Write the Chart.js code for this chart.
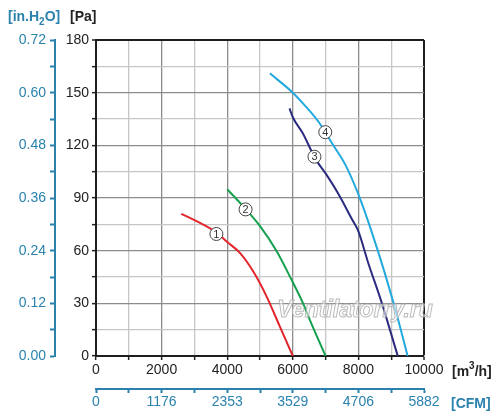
<!DOCTYPE html>
<html>
<head>
<meta charset="utf-8">
<style>
  html, body { margin: 0; padding: 0; background: #fff; }
  #wrap { width: 500px; height: 418px; }
</style>
<script src="https://cdn.jsdelivr.net/npm/chart.js@4.4.1/dist/chart.umd.min.js"></script>
</head>
<body>
<div id="wrap"><canvas id="chart" width="500" height="418"></canvas></div>
<script>
// airflow m3/h and static pressure Pa
var flow1 = [2600, 3200, 3700, 4000, 4400, 4800, 5200, 5600, 6000];
var pres1 = [81, 75.5, 70, 65, 58.5, 48, 34, 17, 0];
var flow2 = [4000, 4500, 5000, 5500, 6000, 6300, 6600, 7000];
var pres2 = [95, 85, 74, 60, 42, 30.5, 17, 0];
var flow3 = [5900, 6000, 6300, 6700, 7000, 7400, 7800, 8000, 8300, 8700, 9200];
var pres3 = [141, 136, 127, 112, 104, 92, 78, 71, 53, 31, 0];
var flow4 = [5300, 6000, 6400, 6800, 7200, 7600, 8000, 8400, 8800, 9200, 9500];
var pres4 = [161, 150, 142, 133, 121, 109, 92, 71, 47.5, 21.5, 0];
var curveColors = ["#e2262c", "#15a04f", "#2b2b7f", "#22a9dd"];

// circled curve numbers (flow, pressure)
var markNames = ["1", "2", "3", "4"];
var markFlow = [3670, 4560, 6660, 6990];
var markPres = [69.5, 83.5, 113.5, 127.5];

// tick labels
var flowLabels = ["0", "2000", "4000", "6000", "8000", "10000"];
var cfmLabels = ["0", "1176", "2353", "3529", "4706", "5882"];
var paLabels = ["0", "30", "60", "90", "120", "150", "180"];
var inh2oLabels = ["0.00", "0.12", "0.24", "0.36", "0.48", "0.60", "0.72"];

var BLUE = "#2a82ad";
var FONT = "'Liberation Sans', Arial, sans-serif";

function toPoints(xs, ys) {
  var pts = [];
  for (var i = 0; i < xs.length; i++) pts.push({ x: xs[i], y: ys[i] });
  return pts;
}

function makeSet(xs, ys, color) {
  return {
    data: toPoints(xs, ys),
    borderColor: color,
    borderWidth: 2,
    pointRadius: 0,
    showLine: true,
    fill: false,
    cubicInterpolationMode: "monotone"
  };
}

function gridColor(ctx, major, max) {
  var v = ctx.tick ? ctx.tick.value : 0;
  if (v === max) return "#1e1e1e";
  if (v % major === 0) return "#8c8c8c";
  return "#c6c6c6";
}

function gridWidth(ctx, max) {
  var v = ctx.tick ? ctx.tick.value : 0;
  return v === max ? 2 : 1.3;
}

var extrasPlugin = {
  id: "extras",
  afterDatasetsDraw: function (chart) {
    var c = chart.ctx;
    var xs = chart.scales.x;
    var ys = chart.scales.y;
    var area = chart.chartArea;

    // circled curve numbers
    c.save();
    c.font = "11px " + FONT;
    c.textAlign = "center";
    c.textBaseline = "middle";
    for (var i = 0; i < markNames.length; i++) {
      var px = xs.getPixelForValue(markFlow[i]);
      var py = ys.getPixelForValue(markPres[i]);
      c.beginPath();
      c.arc(px, py, 6.5, 0, Math.PI * 2);
      c.fillStyle = "#fff";
      c.fill();
      c.lineWidth = 1;
      c.strokeStyle = "#444";
      c.stroke();
      c.fillStyle = "#333";
      c.fillText(markNames[i], px, py + 0.5);
    }
    c.restore();

    // watermark
    c.save();
    c.font = "italic bold 23px " + FONT;
    c.textAlign = "center";
    c.textBaseline = "middle";
    var wx = area.left + (area.right - area.left) * 0.79;
    var wy = area.top + (area.bottom - area.top) * 0.855;
    c.fillStyle = "rgba(255,255,255,0.55)";
    c.fillText("Ventilatorry.ru", wx, wy);
    c.lineWidth = 1;
    c.strokeStyle = "rgba(170,170,170,0.8)";
    c.strokeText("Ventilatorry.ru", wx, wy);
    c.restore();

    // unit captions
    c.save();
    c.textBaseline = "alphabetic";
    c.textAlign = "left";
    var y2 = chart.scales.y2;
    var x2 = chart.scales.x2;
    var topY = area.top - 19;

    c.fillStyle = BLUE;
    c.font = "bold 14px " + FONT;
    var tx = 8;
    c.fillText("[in.H", tx, topY);
    tx += c.measureText("[in.H").width;
    c.font = "bold 10px " + FONT;
    c.fillText("2", tx, topY + 4);
    tx += c.measureText("2").width;
    c.font = "bold 14px " + FONT;
    c.fillText("O]", tx, topY);

    c.fillStyle = "#222";
    c.fillText("[Pa]", y2.right + 15, topY);

    var mx = area.right + 28;
    var my = xs.top + 20;
    c.fillText("[m", mx, my);
    mx += c.measureText("[m").width;
    c.font = "bold 10px " + FONT;
    c.fillText("3", mx, my - 7);
    mx += c.measureText("3").width;
    c.font = "bold 14px " + FONT;
    c.fillText("/h]", mx, my);

    c.fillStyle = BLUE;
    c.fillText("[CFM]", area.right + 27, x2.top + 19);
    c.restore();
  }
};

var chart = new Chart(document.getElementById("chart"), {
  type: "scatter",
  data: {
    datasets: [
      makeSet(flow1, pres1, curveColors[0]),
      makeSet(flow2, pres2, curveColors[1]),
      makeSet(flow3, pres3, curveColors[2]),
      makeSet(flow4, pres4, curveColors[3])
    ]
  },
  options: {
    responsive: false,
    animation: false,
    devicePixelRatio: 1,
    layout: { padding: { left: 0, top: 40, right: 76, bottom: 0 } },
    plugins: { legend: { display: false }, tooltip: { enabled: false } },
    scales: {
      x: {
        type: "linear",
        position: "bottom",
        min: 0,
        max: 10000,
        afterFit: function (s) { s.height = 33; },
        ticks: {
          stepSize: 1000,
          autoSkip: false,
          maxRotation: 0,
          padding: 2,
          color: "#222",
          font: { family: FONT, size: 14 },
          callback: function (v) {
            return v % 2000 === 0 ? flowLabels[v / 2000] : "";
          }
        },
        grid: {
          color: function (ctx) { return gridColor(ctx, 2000, 10000); },
          lineWidth: function (ctx) { return gridWidth(ctx, 10000); },
          tickColor: "#222",
          tickLength: 4,
          tickWidth: 1.5
        },
        border: { color: "#1e1e1e", width: 2 }
      },
      x2: {
        type: "linear",
        position: "bottom",
        min: 0,
        max: 10000,
        afterFit: function (s) { s.height = 29; },
        ticks: {
          stepSize: 1000,
          autoSkip: false,
          maxRotation: 0,
          padding: 1,
          color: BLUE,
          font: { family: FONT, size: 14 },
          callback: function (v) {
            return v % 2000 === 0 ? cfmLabels[v / 2000] : "";
          }
        },
        grid: {
          drawOnChartArea: false,
          tickColor: BLUE,
          tickLength: 4,
          tickWidth: 2
        },
        border: { color: BLUE, width: 2 }
      },
      y: {
        type: "linear",
        position: "left",
        min: 0,
        max: 180,
        afterFit: function (s) { s.width = 41; },
        ticks: {
          stepSize: 15,
          autoSkip: false,
          padding: 3,
          color: "#222",
          font: { family: FONT, size: 14 },
          callback: function (v) {
            return v % 30 === 0 ? paLabels[v / 30] : "";
          }
        },
        grid: {
          color: function (ctx) { return gridColor(ctx, 30, 180); },
          lineWidth: function (ctx) { return gridWidth(ctx, 180); },
          tickColor: "#222",
          tickLength: 4,
          tickWidth: 1.5
        },
        border: { color: "#1e1e1e", width: 2 }
      },
      y2: {
        type: "linear",
        position: "left",
        min: 0,
        max: 180,
        afterFit: function (s) { s.width = 55; },
        ticks: {
          stepSize: 15,
          autoSkip: false,
          padding: 4,
          color: BLUE,
          font: { family: FONT, size: 14 },
          callback: function (v) {
            return v % 30 === 0 ? inh2oLabels[v / 30] : "";
          }
        },
        grid: {
          drawOnChartArea: false,
          tickColor: BLUE,
          tickLength: 5,
          tickWidth: 2
        },
        border: { color: BLUE, width: 2 }
      }
    }
  },
  plugins: [extrasPlugin]
});
</script>
</body>
</html>
